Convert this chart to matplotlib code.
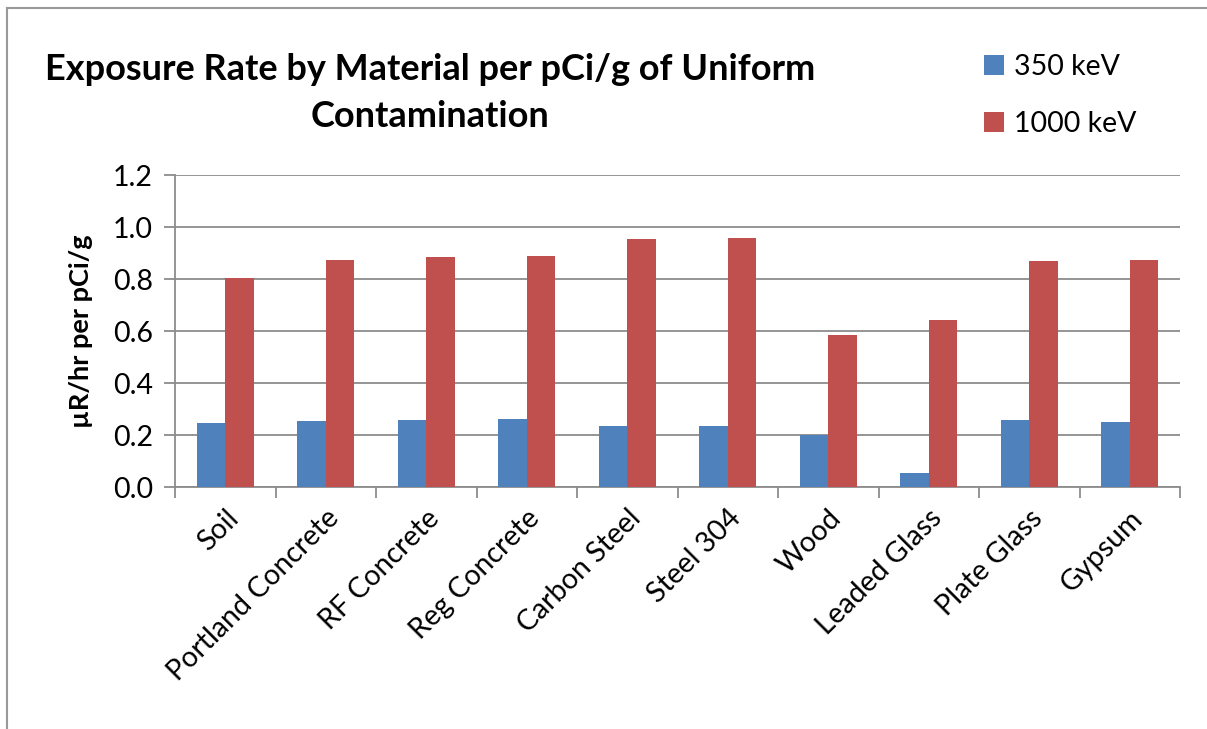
import numpy as np
import matplotlib
matplotlib.use("Agg")
import matplotlib.pyplot as plt
from matplotlib.lines import Line2D

plt.rcParams['font.family'] = ['Lato', 'DejaVu Sans']

materials = ['Soil', 'Portland Concrete', 'RF Concrete', 'Reg Concrete', 'Carbon Steel',
             'Steel 304', 'Wood', 'Leaded Glass', 'Plate Glass', 'Gypsum']
kev350 = [0.248, 0.253, 0.258, 0.262, 0.236, 0.235, 0.201, 0.053, 0.259, 0.250]
kev1000 = [0.804, 0.875, 0.883, 0.890, 0.954, 0.959, 0.584, 0.642, 0.870, 0.874]
yticks = [0.0, 0.2, 0.4, 0.6, 0.8, 1.0, 1.2]

blue = '#4F81BD'
red = '#C0504D'
grid_col = '#8C8C8C'

W, H = 1207, 729
fig = plt.figure(figsize=(W / 100, H / 100), dpi=100)
ax = fig.add_axes([175 / W, 1 - 487 / H, (1180 - 175) / W, (487 - 175) / H])

x = np.arange(len(materials))
bw = 0.286
ax.bar(x - bw / 2, kev350, bw, color=blue, label='350 keV', zorder=3)
ax.bar(x + bw / 2, kev1000, bw, color=red, label='1000 keV', zorder=3)

ax.set_xlim(-0.5, len(materials) - 0.5)
ax.set_ylim(0, 1.2)
ax.set_yticks(yticks)
ax.set_yticklabels([f'{v:.1f}' for v in yticks], fontsize=20.5)
ax.yaxis.grid(True, color=grid_col, linewidth=1.3, zorder=0)

ax.set_xticks(x)
ax.set_xticklabels(materials, rotation=45, ha='right', rotation_mode='anchor', fontsize=20.5)
ax.tick_params(axis='x', which='major', length=0, pad=13)
ax.set_xticks(np.arange(-0.5, len(materials), 1), minor=True)
ax.tick_params(axis='x', which='minor', length=8, width=1.3, color=grid_col, direction='out')
ax.tick_params(axis='y', length=8, width=1.3, color=grid_col, direction='out', pad=8)

for s in ['top', 'right']:
    ax.spines[s].set_visible(False)
for s in ['left', 'bottom']:
    ax.spines[s].set_color(grid_col)
    ax.spines[s].set_linewidth(1.3)

ax.set_ylabel('µR/hr per pCi/g', fontsize=19.5, fontweight='bold', labelpad=14)

fig.text(430 / W, 1 - 93 / H, 'Exposure Rate by Material per pCi/g of Uniform\nContamination',
         ha='center', va='center', fontsize=26, fontweight='bold', linespacing=1.5)

ax.legend(loc='upper left', bbox_to_anchor=(958 / W, 1 - 28 / H), bbox_transform=fig.transFigure,
          frameon=False, fontsize=20.5, handlelength=0.7, handleheight=0.7,
          handletextpad=0.35, labelspacing=1.1)

# chart area border (left and top edges visible in the source)
fig.add_artist(Line2D([7 / W, 7 / W], [0, 1 - 8 / H], transform=fig.transFigure, color='#999999', lw=1.5))
fig.add_artist(Line2D([7 / W, 1], [1 - 8 / H, 1 - 8 / H], transform=fig.transFigure, color='#999999', lw=1.5))

fig.savefig('out.png', dpi=100)
